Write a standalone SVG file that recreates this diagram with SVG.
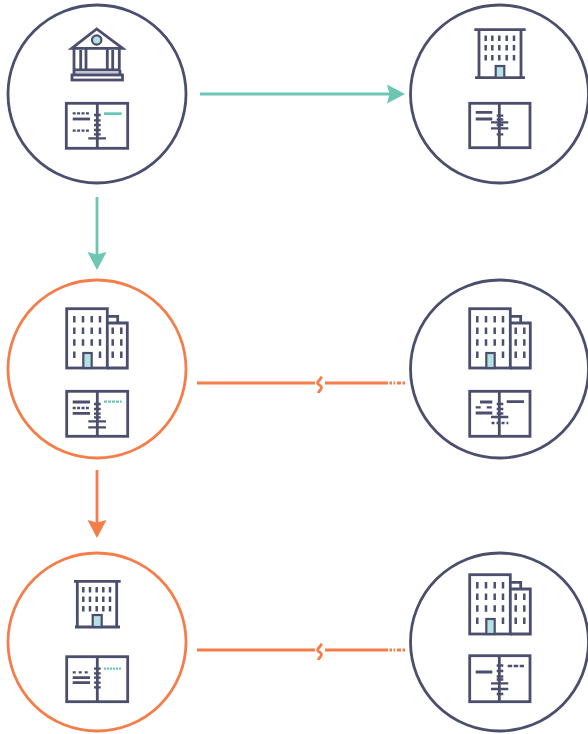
<svg xmlns="http://www.w3.org/2000/svg" xmlns:xlink="http://www.w3.org/1999/xlink" width="588" height="734" viewBox="0 0 588 734">
<style>
.ring{fill:#fff;stroke:#4b4e6d;stroke-width:2.8}
.ring.o{stroke:#f47d4a}
.d{fill:none;stroke:#4b4e6d;stroke-width:2.8}
.t{fill:none;stroke:#4b4e6d;stroke-width:2.3}
.w{fill:none;stroke:#4b4e6d;stroke-width:2.5}
.dash{fill:none;stroke:#4b4e6d;stroke-width:2.3;stroke-dasharray:3 1.400}
.door{fill:#b4e2e2;stroke:#4b4e6d;stroke-width:2.2}
.teal{fill:none;stroke:#6cc6b2;stroke-width:2.8}
.tealdash{fill:none;stroke:#6cc6b2;stroke-width:2.2;stroke-dasharray:3 1}
.ct{fill:none;stroke:#6cc6b2;stroke-width:2.8}
.co{fill:none;stroke:#f47d4a;stroke-width:2.8}
.paper{fill:#fff;stroke:#4b4e6d;stroke-width:2.8}
</style>
<defs>
<marker id="at" markerUnits="userSpaceOnUse" markerWidth="19" markerHeight="20" refX="4" refY="10" orient="auto"><path d="M0 0.500L18 10L0 19.500L2.500 10Z" fill="#6cc6b2"/></marker>
<marker id="ao" markerUnits="userSpaceOnUse" markerWidth="19" markerHeight="20" refX="4" refY="10" orient="auto"><path d="M0 0.500L18 10L0 19.500L2.500 10Z" fill="#f47d4a"/></marker>
<g id="wide">
<rect x="66.700" y="308.700" width="40.600" height="59.300" class="paper"/>
<path class="d" d="M107.300 323H127.300V368H107.300M107.300 316.300H117.700V323"/>
<path class="w" d="M74.300 316V322.500M83 316V322.500M91.700 316V322.500M100 316V322.500M74.300 327.500V334M83 327.500V334M91.700 327.500V334M100 327.500V334M74.300 339.200V345.700M83 339.200V345.700M91.700 339.200V345.700M100 339.200V345.700M74.300 351.500V358M100 351.500V358M112.700 327.500V334M121.300 327.500V334M112.700 339.200V345.700M121.300 339.200V345.700M112.700 351.500V358M121.300 351.500V358"/>
<rect x="83.300" y="353" width="8.400" height="15" class="door"/>
</g>
</defs>

<g id="connectors">
<path class="ct" d="M200 94H391" marker-end="url(#at)"/>
<path class="ct" d="M97 197V256" marker-end="url(#at)"/>
<path class="co" d="M97 470V524" marker-end="url(#ao)"/>
<g id="broken-1">
<path class="co" d="M197 383H315M325 383H384"/>
<path class="co" d="M321.500 376.500C321 380 317.500 381 317.500 383C317.500 385 321.500 385 321.500 387.500C321.500 389.500 318.500 391 318.500 393"/>
<path class="co" d="M384 383H405" stroke-dasharray="4 1.500 2.500 1.500 1.500 2"/>
</g>
<g id="broken-2">
<path class="co" d="M197 650H315M325 650H384"/>
<path class="co" d="M321.500 643.500C321 647 317.500 648 317.500 650C317.500 652 321.500 652 321.500 654.500C321.500 656.500 318.500 658 318.500 660"/>
<path class="co" d="M384 650H405" stroke-dasharray="4 1.500 2.500 1.500 1.500 2"/>
</g>
</g>

<g id="node-bank">
<circle class="ring" cx="97" cy="94" r="89"/>
<path class="d" d="M71.700 48.300L96.700 29L122.700 48.300Z"/>
<circle cx="96.700" cy="40" r="4.700" class="door"/>
<path class="d" d="M74 48.300V70M80.700 50V70M86 48.300V70M107.300 48.300V70M112.700 50V70M119.300 48.300V70M74 70H119.300"/>
<path d="M74 73H120" stroke="#c3c4d1" stroke-width="4" fill="none"/>
<rect x="72" y="75" width="50.500" height="5" class="paper"/>
<path class="d" d="M74 70V75M120 70V75"/>
<rect x="66.300" y="103.300" width="61.400" height="45" class="paper"/>
<path class="d" d="M97.300 103.300V148.300"/>
<path class="dash" d="M72.700 113.300H90M72.700 130.700H90"/>
<path class="d" d="M72.700 119H90"/>
<path class="teal" d="M104 113.700H121.700"/>
<path class="t" d="M94 115H100.700M94 120.300H100.700M94 125H100.700M94 130H100.700M94 134.300H100.700M88.300 138.300H106"/>
</g>

<g id="node-building-top">
<circle class="ring" cx="499.500" cy="94" r="89"/>
<path class="d" d="M474.300 29.700H525.700M479 30V78M521 30V78M475 77.700H525"/>
<path class="w" d="M485.700 35.500V41M492.300 35.500V41M499.300 35.500V41M506.700 35.500V41M514 35.500V41M485.700 45V50.500M492.300 45V50.500M499.300 45V50.500M506.700 45V50.500M514 45V50.500M485.700 55V60.500M492.300 55V60.500M499.300 55V60.500M506.700 55V60.500M514 55V60.500"/>
<rect x="495.700" y="66" width="8.600" height="11.700" class="door"/>
<rect x="469.700" y="103.300" width="60.300" height="44.400" class="paper"/>
<path class="d" d="M499.300 103.300V147.700M475.700 112.300H492.300M475.700 119H492.300"/>
<path class="t" d="M496.700 115.700H503.300M496.700 119.500H503.300M491 122.300H508.300M491 128.300H508.300M496.700 125H503.300M496.700 134.300H503.300"/>
</g>

<g id="node-left-mid">
<circle class="ring o" cx="97" cy="369" r="89"/>
<use xlink:href="#wide" href="#wide"/>
<rect x="66.700" y="391.300" width="61" height="45" class="paper"/>
<path class="d" d="M97.300 391.300V436.300M72.700 402H90M72.700 413.300H90"/>
<path class="dash" d="M72.700 408H90"/>
<path class="tealdash" d="M104 401.700H121.700" stroke-width="2.200"/>
<path class="t" d="M94 404H100.700M94 409H100.700M94 413.700H100.700M94 417.300H100.700M88.300 421.300H106M88.300 427.300H106"/>
</g>

<g id="node-right-mid">
<circle class="ring" cx="499.500" cy="369" r="89"/>
<use xlink:href="#wide" href="#wide" x="403"/>
<rect x="469.700" y="391.300" width="60.300" height="45" class="paper"/>
<path class="d" d="M499.300 391.300V436.300M506.700 401.700H524M480 402H492.300M475.700 413H492.300"/>
<path class="dash" d="M475.700 407.300H492.300" style="stroke-dasharray:5 6"/>
<path class="t" d="M496.700 404H503.300M496.700 409H503.300M496.700 413.500H503.300M491 417H508.300"/>
<path class="dash" d="M491.500 423H508.300" style="stroke-dasharray:3 2"/>
</g>

<g id="node-left-bottom">
<circle class="ring o" cx="97" cy="642" r="89"/>
<path class="d" d="M74 581.300H120.700M77.300 581.300V627M116.700 581.300V627M75 627H120"/>
<path class="w" d="M83.300 587V592.500M90 587V592.500M96.700 587V592.500M103.300 587V592.500M110 587V592.500M83.300 596.500V602M90 596.500V602M96.700 596.500V602M103.300 596.500V602M110 596.500V602M83.300 606V611.500M90 606V611.500M96.700 606V611.500M103.300 606V611.500M110 606V611.500"/>
<rect x="92.700" y="615" width="9" height="12" class="door"/>
<rect x="66.700" y="656.700" width="61" height="45" class="paper"/>
<path class="d" d="M97.300 656.700V701.700M72.700 677.700H90M72.700 682.700H90"/>
<path class="dash" d="M72.700 672.300H90" style="stroke-dasharray:3 3"/>
<path class="tealdash" d="M104 668.700H121.700" style="stroke-dasharray:2 1"/>
<path class="t" d="M94 668.700H100.700M94 673.300H100.700M94 677.700H100.700M94 682.700H100.700M94 687.300H100.700"/>
</g>

<g id="node-right-bottom">
<circle class="ring" cx="499.500" cy="642" r="89"/>
<use xlink:href="#wide" href="#wide" x="403" y="266"/>
<rect x="469.700" y="655.700" width="60.300" height="46" class="paper"/>
<path class="d" d="M499.300 655.700V701.700M475.700 672H492.300"/>
<path class="dash" d="M507.700 666H524" style="stroke-dasharray:4.500 1.500"/>
<path class="t" d="M496.700 665.500H503.300M496.700 671H503.300M496.700 676.500H503.300M496.700 679.500H503.300M491 683.300H508.300M491 689H508.300M496.700 694H503.300"/>
</g>
</svg>
